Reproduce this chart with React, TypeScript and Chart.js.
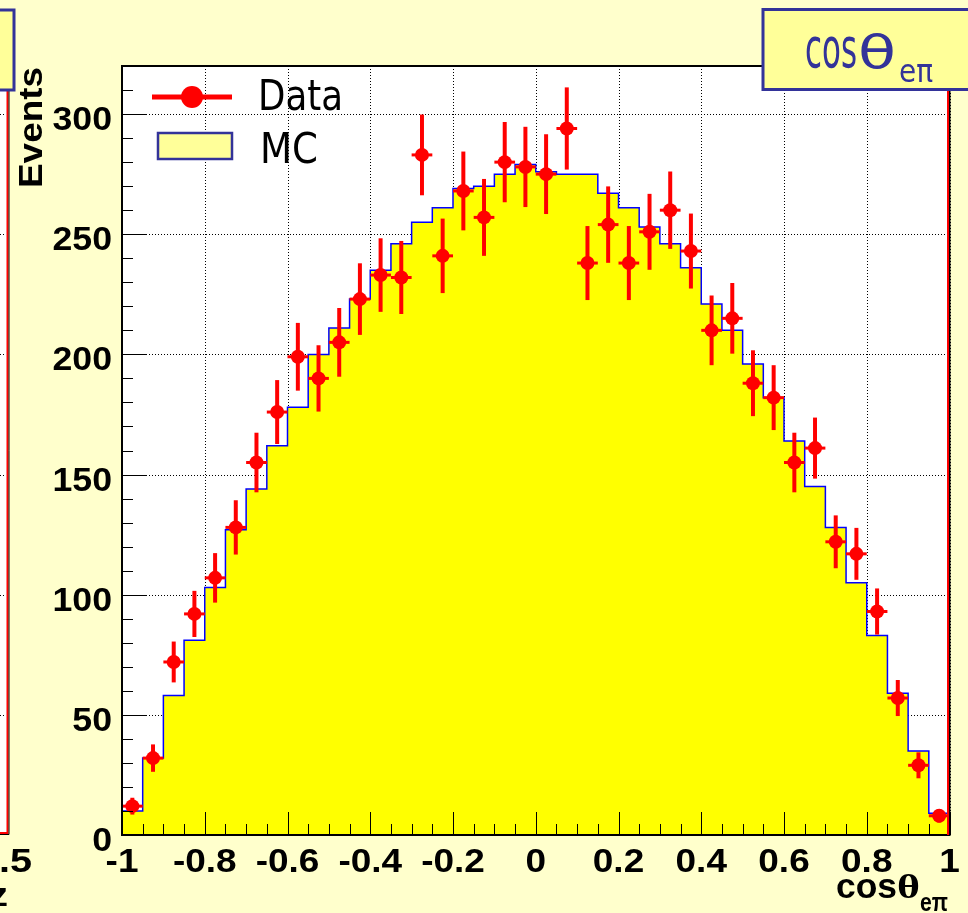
import React, { useEffect, useRef } from "react";
import { Chart, registerables } from "chart.js";

Chart.register(...registerables);

// ---------- data ----------
const X_MIN = -1;
const X_MAX = 1;
const BIN_WIDTH = 0.05;
const Y_MIN = 0;
const Y_MAX = 320;

const mcCounts = [
  10, 32, 58, 81, 103, 127, 144, 162, 178, 200,
  211, 223, 235, 246, 255, 261, 269, 270, 275, 279,
  276, 275, 275, 267, 261, 253, 246, 236, 221, 210,
  196, 182, 164, 145, 128, 105, 83, 59, 35, 9,
];

const dataCounts = [
  12, 32, 72, 92, 107, 128, 155, 176, 199, 190,
  205, 223, 233, 232, 283, 241, 268, 257, 280, 278,
  275, 294, 238, 254, 238, 251, 260, 243, 210, 215,
  188, 182, 155, 161, 122, 117, 93, 57, 29, 8,
];

const dataErrors = [
  3.5, 5.7, 8.5, 9.6, 10.3, 11.3, 12.4, 13.3, 14.1, 13.8,
  14.3, 14.9, 15.3, 15.2, 16.8, 15.5, 16.4, 16.0, 16.7, 16.7,
  16.6, 17.1, 15.4, 15.9, 15.4, 15.8, 16.1, 15.6, 14.5, 14.7,
  13.7, 13.5, 12.4, 12.7, 11.0, 10.8, 9.6, 7.5, 5.4, 2.8,
];

const xTickValues = [-1, -0.8, -0.6, -0.4, -0.2, 0, 0.2, 0.4, 0.6, 0.8, 1];
const xTickLabels = ["-1", "-0.8", "-0.6", "-0.4", "-0.2", "0", "0.2", "0.4", "0.6", "0.8", "1"];
const yTickValues = [0, 50, 100, 150, 200, 250, 300];
const yTickLabels = ["0", "50", "100", "150", "200", "250", "300"];
const X_MINOR_STEP = 0.05;
const Y_MINOR_STEP = 10;

const seriesLabels = ["Data", "MC"];
const yTitle = "Events";
const titleMain = "cos";
const titleTheta = "θ";
const titleSub = "eπ";

// ---------- helpers ----------
function fitText(
  ctx: CanvasRenderingContext2D,
  text: string,
  x: number,
  y: number,
  font: string,
  targetW: number,
  align: "left" | "right" | "center" = "left"
) {
  ctx.font = font;
  const w = ctx.measureText(text).width;
  const s = targetW / w;
  ctx.save();
  ctx.translate(x, y);
  ctx.scale(s, 1);
  ctx.textAlign = "left";
  ctx.textBaseline = "alphabetic";
  const off = align === "right" ? -w : align === "center" ? -w / 2 : 0;
  ctx.fillText(text, off, 0);
  ctx.restore();
}

const BG = "#FFFFCC";
const PALE = "#FFFF99";
const BOX_BLUE = "#333399";

const backgroundPlugin = {
  id: "rootBackground",
  beforeDraw(chart: any) {
    const { ctx, chartArea: a, width, height } = chart;
    const ys = chart.scales.y;
    ctx.save();
    ctx.fillStyle = BG;
    ctx.fillRect(0, 0, width, height);
    ctx.fillStyle = "#FFFFFF";
    ctx.fillRect(a.left, a.top, a.right - a.left, a.bottom - a.top);

    // fragment of neighbouring pad on the far left
    ctx.fillStyle = "#FFFFFF";
    ctx.fillRect(0, a.top, 8, a.bottom - 1 - a.top);
    ctx.fillStyle = "#000";
    for (const v of yTickValues) {
      if (v === 0) continue;
      const py = Math.round(ys.getPixelForValue(v));
      for (let px = 0; px < 6; px += 3) ctx.fillRect(px, py, 1, 1);
    }
    ctx.strokeStyle = "#FF0000";
    ctx.lineWidth = 2;
    ctx.beginPath();
    ctx.moveTo(7.5, a.top);
    ctx.lineTo(7.5, a.bottom - 2);
    ctx.lineTo(0, a.bottom - 2);
    ctx.stroke();
    ctx.strokeStyle = "#000";
    ctx.lineWidth = 1;
    ctx.beginPath();
    ctx.moveTo(9, a.top);
    ctx.lineTo(9, a.bottom - 0.5);
    ctx.lineTo(0, a.bottom - 0.5);
    ctx.stroke();
    ctx.restore();
  },
  beforeDatasetsDraw(chart: any) {
    // dotted grid (under the histogram fill)
    const { ctx, chartArea: a } = chart;
    const xs = chart.scales.x;
    const ys = chart.scales.y;
    ctx.save();
    ctx.strokeStyle = "#000";
    ctx.lineWidth = 1;
    ctx.setLineDash([1, 2]);
    ctx.beginPath();
    for (const v of xTickValues) {
      const px = Math.round(xs.getPixelForValue(v)) + 0.5;
      ctx.moveTo(px, a.top);
      ctx.lineTo(px, a.bottom);
    }
    for (const v of yTickValues) {
      const py = Math.round(ys.getPixelForValue(v)) + 0.5;
      ctx.moveTo(a.left, py);
      ctx.lineTo(a.right, py);
    }
    ctx.stroke();
    ctx.restore();
  },
};

const overlayPlugin = {
  id: "rootOverlay",
  afterDatasetsDraw(chart: any) {
    const { ctx, chartArea: a } = chart;
    const xs = chart.scales.x;
    const ys = chart.scales.y;
    ctx.save();

    // error bars
    ctx.strokeStyle = "#FF0000";
    dataCounts.forEach((v, i) => {
      const xc = X_MIN + (i + 0.5) * BIN_WIDTH;
      const px = xs.getPixelForValue(xc);
      const pxl = xs.getPixelForValue(X_MIN + i * BIN_WIDTH);
      const pxr = xs.getPixelForValue(X_MIN + (i + 1) * BIN_WIDTH);
      const py = ys.getPixelForValue(v);
      const pyl = ys.getPixelForValue(Math.max(0, v - dataErrors[i]));
      const pyh = ys.getPixelForValue(v + dataErrors[i]);
      ctx.lineWidth = 4;
      ctx.beginPath();
      ctx.moveTo(px, pyl);
      ctx.lineTo(px, pyh);
      ctx.stroke();
      ctx.lineWidth = 3;
      ctx.beginPath();
      ctx.moveTo(pxl, py);
      ctx.lineTo(pxr, py);
      ctx.stroke();
    });

    // inside ticks
    ctx.strokeStyle = "#000";
    ctx.lineWidth = 1;
    ctx.beginPath();
    const nx = Math.round((X_MAX - X_MIN) / X_MINOR_STEP);
    for (let k = 0; k <= nx; k++) {
      const v = X_MIN + k * X_MINOR_STEP;
      const major = xTickValues.some((t) => Math.abs(t - v) < 1e-6);
      const px = Math.round(xs.getPixelForValue(v)) + 0.5;
      ctx.moveTo(px, a.bottom);
      ctx.lineTo(px, a.bottom - (major ? 23 : 11));
    }
    const ny = Math.round((Y_MAX - Y_MIN) / Y_MINOR_STEP);
    for (let k = 0; k <= ny; k++) {
      const v = Y_MIN + k * Y_MINOR_STEP;
      const major = yTickValues.includes(v);
      const py = Math.round(ys.getPixelForValue(v)) + 0.5;
      ctx.moveTo(a.left, py);
      ctx.lineTo(a.left + (major ? 24 : 11), py);
    }
    ctx.stroke();

    // frame
    ctx.lineWidth = 2;
    ctx.strokeRect(a.left, a.top, a.right - a.left, a.bottom - a.top);
    ctx.strokeStyle = "#FF0000";
    ctx.lineWidth = 2;
    ctx.beginPath();
    ctx.moveTo(a.right - 1.5, a.top);
    ctx.lineTo(a.right - 1.5, a.bottom);
    ctx.stroke();
    ctx.restore();
  },
  afterDraw(chart: any) {
    const { ctx, chartArea: a, width } = chart;
    const xs = chart.scales.x;
    const ys = chart.scales.y;
    ctx.save();
    ctx.fillStyle = "#000";

    // tick labels
    const tickFont = 'bold 33px "Liberation Sans", Arial, sans-serif';
    yTickValues.forEach((v, i) => {
      const py = ys.getPixelForValue(v);
      ctx.font = tickFont;
      const w = ctx.measureText(yTickLabels[i]).width * 1.08;
      fitText(ctx, yTickLabels[i], a.left - 10, py + 16, tickFont, w, "right");
    });
    xTickValues.forEach((v, i) => {
      const px = xs.getPixelForValue(v);
      ctx.font = tickFont;
      const w = ctx.measureText(xTickLabels[i]).width * 1.12;
      fitText(ctx, xTickLabels[i], px, a.bottom + 37, tickFont, w, "center");
    });

    // left neighbour pad label fragments
    fitText(ctx, "0.5", 32, a.bottom + 37, tickFont, 55, "right");
    fitText(ctx, "z", 8, a.bottom + 71, 'bold 34px "Liberation Sans", Arial, sans-serif', 19, "right");

    // axis titles
    fitText(ctx, titleMain, 836, 898, 'bold 35px "Liberation Sans", Arial, sans-serif', 61);
    fitText(ctx, titleTheta, 897, 898, 'bold 33px "Liberation Serif", serif', 23);
    fitText(ctx, titleSub, 920, 911, 'bold 26px "Liberation Sans", Arial, sans-serif', 28);

    ctx.save();
    ctx.translate(42, a.top + 1);
    ctx.rotate(-Math.PI / 2);
    fitText(ctx, yTitle, 0, 0, 'bold 34px "Liberation Sans", Arial, sans-serif', 121, "right");
    ctx.restore();

    // legend
    ctx.strokeStyle = "#FF0000";
    ctx.lineWidth = 5;
    ctx.beginPath();
    ctx.moveTo(152, 97);
    ctx.lineTo(232, 97);
    ctx.stroke();
    ctx.fillStyle = "#FF0000";
    ctx.beginPath();
    ctx.arc(192, 97, 11, 0, Math.PI * 2);
    ctx.fill();
    ctx.fillStyle = "#000";
    fitText(ctx, seriesLabels[0], 258, 110, '43px "DejaVu Sans", sans-serif', 85);

    ctx.fillStyle = PALE;
    ctx.fillRect(158, 133, 74, 26);
    ctx.strokeStyle = BOX_BLUE;
    ctx.lineWidth = 2.5;
    ctx.strokeRect(158, 133, 74, 26);
    ctx.fillStyle = "#000";
    fitText(ctx, seriesLabels[1], 260, 163, '43px "DejaVu Sans", sans-serif', 58);

    // title box (top right)
    ctx.fillStyle = PALE;
    ctx.fillRect(763, 9.5, width - 763 + 10, 80);
    ctx.strokeStyle = BOX_BLUE;
    ctx.lineWidth = 3;
    ctx.strokeRect(763, 9.5, width - 763 + 10, 80);
    ctx.fillStyle = BOX_BLUE;
    fitText(ctx, titleMain, 805, 67, '55px "DejaVu Sans", sans-serif', 52);
    fitText(ctx, titleTheta, 858, 68, '47px "DejaVu Sans", sans-serif', 38);
    fitText(ctx, titleSub, 899, 82, '32px "DejaVu Sans", sans-serif', 34);

    // top-left box of neighbouring pad
    ctx.fillStyle = PALE;
    ctx.fillRect(-10, 10, 24, 80);
    ctx.strokeStyle = BOX_BLUE;
    ctx.lineWidth = 3;
    ctx.strokeRect(-10, 10, 24, 80);

    ctx.restore();
  },
};

export default function App() {
  const canvasRef = useRef<HTMLCanvasElement | null>(null);

  useEffect(() => {
    document.body.style.margin = "0";
    document.body.style.background = BG;
    const canvas = canvasRef.current;
    if (!canvas) return;

    const mcPoints = mcCounts.map((v, i) => ({ x: X_MIN + i * BIN_WIDTH, y: v }));
    mcPoints.push({ x: X_MAX, y: mcCounts[mcCounts.length - 1] });
    const dataPoints = dataCounts.map((v, i) => ({ x: X_MIN + (i + 0.5) * BIN_WIDTH, y: v }));

    const chart = new Chart(canvas, {
      type: "line",
      data: {
        datasets: [
          {
            label: seriesLabels[0],
            data: dataPoints,
            showLine: false,
            pointRadius: 7,
            pointHoverRadius: 7,
            pointBackgroundColor: "#FF0000",
            pointBorderColor: "#FF0000",
            pointBorderWidth: 0,
            order: 0,
          },
          {
            label: seriesLabels[1],
            data: mcPoints,
            stepped: "before",
            fill: "origin",
            backgroundColor: "#FFFF00",
            borderColor: "#0000FF",
            borderWidth: 1.5,
            pointRadius: 0,
            order: 1,
          },
        ],
      },
      options: {
        responsive: false,
        animation: false,
        events: [],
        layout: { padding: { left: 0, right: 18.5, top: 66, bottom: 0 } },
        plugins: { legend: { display: false }, tooltip: { enabled: false } },
        scales: {
          x: {
            type: "linear",
            min: X_MIN,
            max: X_MAX,
            afterFit(s: any) {
              s.height = 78;
            },
            afterBuildTicks(s: any) {
              s.ticks = xTickValues.map((v) => ({ value: v }));
            },
            ticks: { display: false },
            grid: { display: false, drawTicks: false },
            border: { display: false },
          },
          y: {
            type: "linear",
            min: Y_MIN,
            max: Y_MAX,
            afterFit(s: any) {
              s.width = 122;
            },
            afterBuildTicks(s: any) {
              s.ticks = yTickValues.map((v) => ({ value: v }));
            },
            ticks: { display: false },
            grid: { display: false, drawTicks: false },
            border: { display: false },
          },
        },
      },
      plugins: [backgroundPlugin, overlayPlugin],
    } as any);

    return () => chart.destroy();
  }, []);

  return (
    <div style={{ width: 968, height: 913, background: BG }}>
      <canvas ref={canvasRef} width={968} height={913} style={{ display: "block" }} />
    </div>
  );
}
